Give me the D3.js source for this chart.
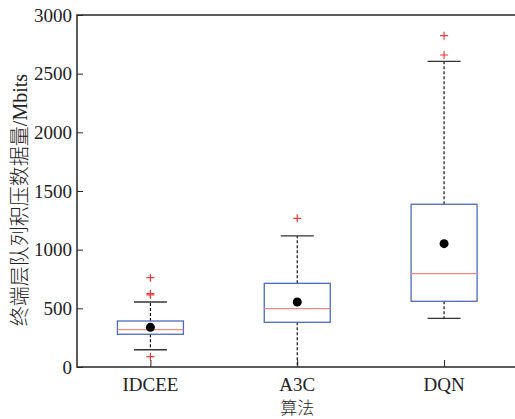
<!DOCTYPE html>
<html lang="zh">
<head>
<meta charset="UTF-8">
<title>boxplot</title>
<script src="https://d3js.org/d3.v7.min.js"></script>
<style>
  body { margin: 0; background: #fff; }
  text { font-family: "Liberation Serif", "Times New Roman", serif; fill: #222; }
</style>
</head>
<body>
<div class="canvas"></div>
<script>
  // 算法
  const categories = ['IDCEE', 'A3C', 'DQN'];
  // box stats (Mbits)
  const q1 = [279, 381, 560];
  const medians = [318, 497, 795];
  const q3 = [392, 713, 1387];
  const whiskerLow = [147, 0, 415];
  const whiskerHigh = [554, 1117, 2605];
  const means = [338, 554, 1051];
  const outliers = [[761, 625, 614, 88], [1267], [2824, 2659]];
  const yTicks = [0, 500, 1000, 1500, 2000, 2500, 3000];

  const W = 515, H = 419;
  const margin = {left: 77, top: 15, bottom: 367, right: 517.5}

  const svg = d3.select('.canvas')
    .append('svg')
    .attr('width', W)
    .attr('height', H)

  const x = d3.scalePoint()
    .domain(categories)
    .range([margin.left, margin.right])
    .padding(0.5)

  const y = d3.scaleLinear()
    .domain([0, 3000])
    .range([margin.bottom, margin.top])

  const boxHalf = 33, capHalf = 16.5;
  const axisColor = '#262626';

  const data = categories.map((c, i) => ({
    name: c, q1: q1[i], med: medians[i], q3: q3[i],
    lo: whiskerLow[i], hi: whiskerHigh[i], mean: means[i], out: outliers[i]
  }))

  const g = svg.append('g')

  const boxes = g.selectAll('.box')
    .data(data)
    .enter()
    .append('g')
    .attr('transform', d => `translate(${x(d.name)},0)`)

  // dashed whiskers
  boxes.append('line')
    .attr('y1', d => y(d.q3)).attr('y2', d => y(d.hi))
    .attr('stroke', '#111').attr('stroke-width', 1.2).attr('stroke-dasharray', '3,2')
  boxes.append('line')
    .attr('y1', d => y(d.q1)).attr('y2', d => y(d.lo))
    .attr('stroke', '#111').attr('stroke-width', 1.2).attr('stroke-dasharray', '3,2')

  // caps
  boxes.append('line')
    .attr('x1', -capHalf).attr('x2', capHalf)
    .attr('y1', d => y(d.hi)).attr('y2', d => y(d.hi))
    .attr('stroke', '#333').attr('stroke-width', 1.3)
  boxes.filter(d => d.lo > 0).append('line')
    .attr('x1', -capHalf).attr('x2', capHalf)
    .attr('y1', d => y(d.lo)).attr('y2', d => y(d.lo))
    .attr('stroke', '#333').attr('stroke-width', 1.3)

  // box
  boxes.append('rect')
    .attr('x', -boxHalf).attr('width', boxHalf * 2)
    .attr('y', d => y(d.q3)).attr('height', d => y(d.q1) - y(d.q3))
    .attr('fill', 'none').attr('stroke', '#4a6bbd').attr('stroke-width', 1.3)

  // median
  boxes.append('line')
    .attr('x1', -boxHalf).attr('x2', boxHalf)
    .attr('y1', d => y(d.med)).attr('y2', d => y(d.med))
    .attr('stroke', '#f28a8a').attr('stroke-width', 1.3)

  // mean
  boxes.append('circle')
    .attr('cy', d => y(d.mean)).attr('r', 4.5)
    .attr('fill', '#000')

  // outliers as red +
  boxes.selectAll('.out')
    .data(d => d.out)
    .enter()
    .append('path')
    .attr('d', v => `M-4,${y(v)}H4M0,${y(v) - 4}V${y(v) + 4}`)
    .attr('stroke', '#f03c3c').attr('stroke-width', 1.2).attr('fill', 'none')

  // axes (ticks inside, like matlab)
  const yAxis = svg.append('g')
    .attr('transform', `translate(${margin.left},0)`)
    .call(d3.axisRight(y).tickValues(yTicks).tickSize(6).tickFormat(''))
  yAxis.select('.domain').remove()
  yAxis.selectAll('line').attr('stroke', axisColor)

  const xAxis = svg.append('g')
    .attr('transform', `translate(0,${margin.bottom})`)
    .call(d3.axisTop(x).tickSize(7).tickFormat(''))
  xAxis.select('.domain').remove()
  xAxis.selectAll('line').attr('stroke', axisColor)

  svg.append('path')
    .attr('d', `M${margin.right},${margin.top}H${margin.left}V${margin.bottom}H${margin.right}`)
    .attr('fill', 'none').attr('stroke', axisColor).attr('stroke-width', 1.5)

  svg.selectAll('.ylab')
    .data(yTicks)
    .enter()
    .append('text')
    .attr('x', margin.left - 5)
    .attr('y', d => y(d))
    .attr('dy', '0.35em')
    .attr('text-anchor', 'end')
    .style('font-size', '19px')
    .text(d => d)

  svg.selectAll('.xlab')
    .data(categories)
    .enter()
    .append('text')
    .attr('x', d => x(d))
    .attr('y', 391)
    .attr('text-anchor', 'middle')
    .style('font-size', '19px')
    .text(d => d)

  svg.append('text')
    .attr('x', x('A3C'))
    .attr('y', 414)
    .attr('text-anchor', 'middle')
    .style('font-size', '17px')
    .style('font-family', '"Noto Sans CJK SC", sans-serif')
    .style('font-weight', 300)
    .text('算法')

  const yl = svg.append('text')
    .attr('transform', `translate(27,200) rotate(-90)`)
    .attr('text-anchor', 'middle')
    .style('font-size', '20px')
  yl.append('tspan')
    .style('font-family', '"Noto Sans CJK SC", sans-serif')
    .style('font-weight', 300)
    .text('终端层队列积压数据量')
  yl.append('tspan').text('/Mbits')
</script>
</body>
</html>
